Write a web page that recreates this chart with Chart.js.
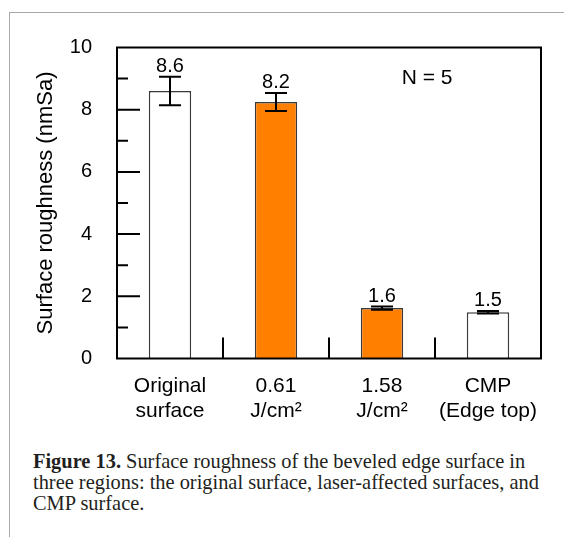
<!DOCTYPE html>
<html>
<head>
<meta charset="utf-8">
<script src="https://cdn.jsdelivr.net/npm/chart.js@4.4.1/dist/chart.umd.min.js"></script>
<style>
  html, body { margin: 0; padding: 0; background: #fff; }
  body { width: 564px; height: 537px; position: relative; overflow: hidden; }
  #frame { position: absolute; left: 9px; top: 12px; width: 600px; height: 600px;
           border-left: 1.5px solid #a8a8a8; border-top: 1.5px solid #a8a8a8; }
  #wrap { position: absolute; left: 0; top: 0; width: 564px; height: 440px; }
  #caption { position: absolute; left: 33px; top: 451px; font-family: "Liberation Serif", serif;
             font-size: 20.4px; line-height: 21px; color: #231f20; white-space: nowrap; }
</style>
</head>
<body>
<div id="frame"></div>
<div id="wrap"><canvas id="chart"></canvas></div>
<div id="caption"><b>Figure 13.</b> Surface roughness of the beveled edge surface in<br>three regions: the original surface, laser-affected surfaces, and<br>CMP surface.</div>
<script>
// data
var categories = [['Original', 'surface'], ['0.61', 'J/cm\u00b2'], ['1.58', 'J/cm\u00b2'], ['CMP', '(Edge top)']];
var roughness = [8.6, 8.25, 1.62, 1.49];
var errors = [0.46, 0.29, 0.05, 0.04];
var valueLabels = ['8.6', '8.2', '1.6', '1.5'];
var barColors = ['#ffffff', '#ff8000', '#ff8000', '#ffffff'];
var yTicks = [0, 2, 4, 6, 8, 10];
var yMinorTicks = [1, 3, 5, 7, 9];

Chart.defaults.font.family = '"Liberation Sans", Arial, sans-serif';
Chart.defaults.color = '#000';

var marks = {
  id: 'marks',
  afterDatasetsDraw: function(chart) {
    var ctx = chart.ctx, xs = chart.scales.x, ys = chart.scales.y, a = chart.chartArea;
    ctx.save();
    ctx.strokeStyle = '#000';
    ctx.fillStyle = '#000';
    ctx.lineWidth = 2;

    // error bars + value labels
    ctx.font = '20px "Liberation Sans", Arial, sans-serif';
    ctx.textAlign = 'center';
    ctx.textBaseline = 'alphabetic';
    roughness.forEach(function(v, i) {
      var x = xs.getPixelForValue(i);
      var top = ys.getPixelForValue(v + errors[i]);
      var bot = ys.getPixelForValue(v - errors[i]);
      ctx.beginPath();
      ctx.moveTo(x, top); ctx.lineTo(x, bot);
      ctx.moveTo(x - 11, top); ctx.lineTo(x + 11, top);
      ctx.moveTo(x - 11, bot); ctx.lineTo(x + 11, bot);
      ctx.stroke();
      ctx.fillText(valueLabels[i], x, top - 5);
    });

    // plot frame
    ctx.strokeRect(a.left, a.top, a.right - a.left, a.bottom - a.top);

    // inner ticks on the y axis
    ctx.beginPath();
    yTicks.concat(yMinorTicks).forEach(function(v) {
      if (v === 0 || v === 10) return;
      var y = ys.getPixelForValue(v);
      ctx.moveTo(a.left, y);
      ctx.lineTo(a.left + (v % 2 === 0 ? 23 : 11), y);
    });
    // separators between categories
    for (var i = 0; i < categories.length - 1; i++) {
      var sx = xs.getPixelForValue(i + 0.5);
      ctx.moveTo(sx, a.bottom);
      ctx.lineTo(sx, a.bottom - 21);
    }
    ctx.stroke();

    // sample count
    ctx.font = '21px "Liberation Sans", Arial, sans-serif';
    ctx.textBaseline = 'middle';
    ctx.fillText('N = 5', xs.getPixelForValue(2.425), ys.getPixelForValue(9.02));
    ctx.restore();
  }
};

new Chart(document.getElementById('chart'), {
  type: 'bar',
  data: {
    labels: categories,
    datasets: [{
      data: roughness,
      backgroundColor: barColors,
      borderColor: '#3a3a3a',
      borderWidth: 1.5,
      categoryPercentage: 1,
      barPercentage: 0.4
    }]
  },
  options: {
    responsive: true,
    maintainAspectRatio: false,
    animation: false,
    layout: { padding: { top: 47.5, right: 23, bottom: 0, left: 0 } },
    plugins: { legend: { display: false }, tooltip: { enabled: false } },
    scales: {
      x: {
        grid: { display: false, drawTicks: false },
        border: { display: false },
        ticks: { font: { size: 21, lineHeight: 1.2 }, padding: 15, maxRotation: 0, autoSkip: false },
        afterFit: function(s) { s.height = 81.5; }
      },
      y: {
        min: 0, max: 10,
        grid: { display: false, drawTicks: false },
        border: { display: false },
        ticks: { font: { size: 20 }, padding: 25 },
        afterBuildTicks: function(s) { s.ticks = yTicks.map(function(v) { return { value: v }; }); },
        title: { display: true, text: 'Surface roughness (nmSa)', font: { size: 22 }, padding: { top: 33, bottom: 0 } },
        afterFit: function(s) { s.width = 117; }
      }
    }
  },
  plugins: [marks]
});
</script>
</body>
</html>
